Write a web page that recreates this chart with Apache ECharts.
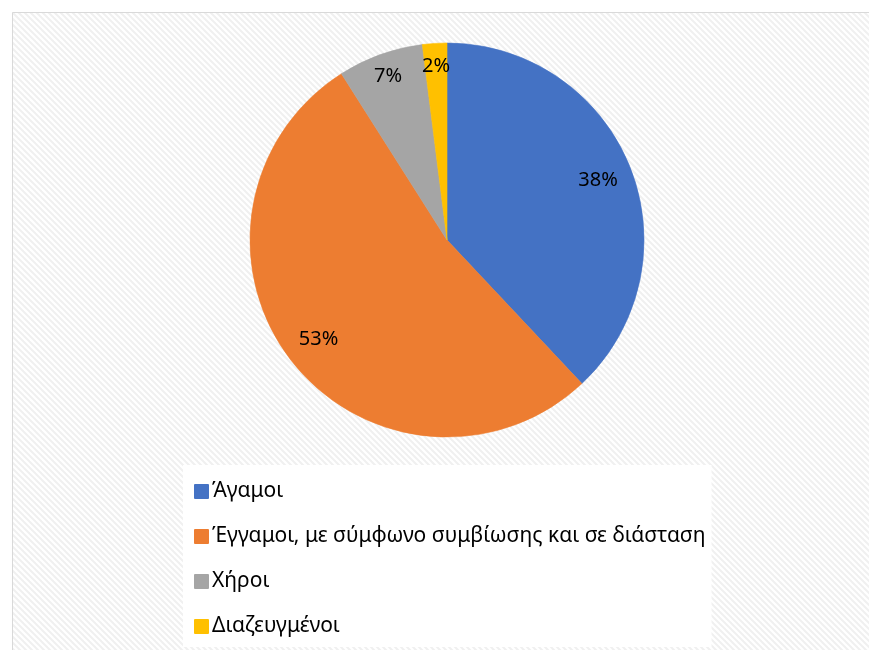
<!DOCTYPE html>
<html>
<head>
<meta charset="utf-8">
<script src="https://cdn.jsdelivr.net/npm/echarts@6/dist/echarts.min.js"></script>
<style>
html,body{margin:0;padding:0;background:#fff;}
#chart{width:869px;height:650px;}
</style>
</head>
<body>
<div id="chart"></div>
<script>
const categories = ['Άγαμοι', 'Έγγαμοι, με σύμφωνο συμβίωσης και σε διάσταση', 'Χήροι', 'Διαζευγμένοι'];
const values = [38, 53, 7, 2];
const colors = ['#4472C4', '#ED7D31', '#A5A5A5', '#FFC000'];

// hatch pattern
const pc = document.createElement('canvas');
pc.width = 6; pc.height = 6;
const g = pc.getContext('2d');
g.fillStyle = '#ffffff';
g.fillRect(0, 0, 6, 6);
g.strokeStyle = '#f0f0f0';
g.lineWidth = 2;
for (let k = -2; k <= 2; k++) {
  g.beginPath();
  g.moveTo(k * 6 - 1, -1);
  g.lineTo(k * 6 + 7, 7);
  g.stroke();
}

const FONT = 'Noto Sans';
const chart = echarts.init(document.getElementById('chart'), null, {renderer: 'canvas'});

const pieData = categories.map((c, i) => ({name: c, value: values[i], itemStyle: {color: colors[i], borderColor: colors[i], borderWidth: 0.6}}));
const labelData = (showIdx) => categories.map((c, i) => ({
  name: c, value: values[i],
  label: {show: showIdx.includes(i)}
}));

chart.setOption({
  animation: false,
  graphic: [{
    type: 'rect', z: -10, silent: true,
    shape: {x: 12.5, y: 12.5, width: 900, height: 700},
    style: {fill: {image: pc, repeat: 'repeat'}, stroke: '#d9d9d9', lineWidth: 1}
  }],
  legend: {
    orient: 'vertical',
    left: 183, top: 465,
    width: 527, height: 300,
    backgroundColor: '#ffffff',
    padding: [14, 6, 8, 11],
    itemWidth: 13, itemHeight: 13, itemGap: 20,
    icon: 'rect',
    data: categories,
    textStyle: {fontFamily: FONT, fontSize: 21, color: '#000', padding: [0, 0, 0, -1], lineHeight: 25}
  },
  series: [
    {
      type: 'pie',
      center: [447, 240],
      radius: [0, 197],
      startAngle: 90,
      clockwise: true,
      data: pieData,
      label: {show: false},
      labelLine: {show: false},
      silent: true
    },
    {
      type: 'pie',
      center: [447, 240],
      radius: [122, 197],
      startAngle: 90,
      clockwise: true,
      data: labelData([0, 1]),
      itemStyle: {color: 'rgba(0,0,0,0)'},
      label: {position: 'inside', formatter: '{d}%', fontFamily: FONT, fontSize: 20, color: '#000'},
      labelLine: {show: false},
      legendHoverLink: false,
      silent: true,
      z: 5
    },
    {
      type: 'pie',
      center: [447, 240],
      radius: [145, 197],
      startAngle: 90,
      clockwise: true,
      data: labelData([2, 3]),
      itemStyle: {color: 'rgba(0,0,0,0)'},
      label: {position: 'inside', formatter: '{d}%', fontFamily: FONT, fontSize: 20, color: '#000'},
      labelLine: {show: false},
      legendHoverLink: false,
      silent: true,
      z: 5
    }
  ]
});
</script>
</body>
</html>
